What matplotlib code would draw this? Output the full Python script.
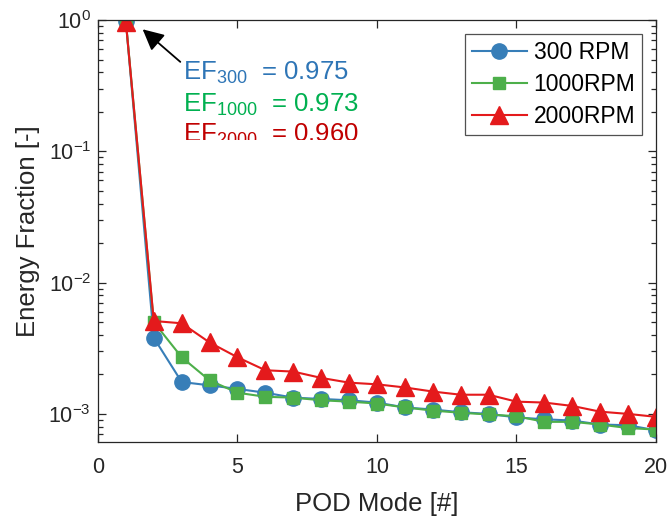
import numpy as np
import matplotlib.pyplot as plt
import matplotlib.patches as mpatches

plt.rcParams['font.family'] = ['Liberation Sans', 'DejaVu Sans']
plt.rcParams['mathtext.default'] = 'regular'

# Dados
modo = np.arange(1, 21)
ef_300 = [0.975, 3.8e-3, 1.75e-3, 1.65e-3, 1.55e-3, 1.45e-3, 1.33e-3, 1.3e-3, 1.27e-3, 1.22e-3,
          1.12e-3, 1.08e-3, 1.03e-3, 1.0e-3, 0.94e-3, 0.91e-3, 0.89e-3, 0.83e-3, 0.82e-3, 0.75e-3]
ef_1000 = [0.973, 5.0e-3, 2.7e-3, 1.8e-3, 1.45e-3, 1.35e-3, 1.33e-3, 1.27e-3, 1.24e-3, 1.2e-3,
           1.12e-3, 1.06e-3, 1.02e-3, 0.99e-3, 0.96e-3, 0.87e-3, 0.87e-3, 0.83e-3, 0.78e-3, 0.76e-3]
ef_2000 = [0.960, 5.1e-3, 4.9e-3, 3.5e-3, 2.7e-3, 2.15e-3, 2.1e-3, 1.88e-3, 1.73e-3, 1.68e-3,
           1.59e-3, 1.48e-3, 1.4e-3, 1.4e-3, 1.24e-3, 1.22e-3, 1.15e-3, 1.04e-3, 1.0e-3, 0.95e-3]
legendas = ['300 RPM', '1000RPM', '2000RPM']
textos_ef = ['EF$_{300}$  = 0.975', 'EF$_{1000}$  = 0.973', 'EF$_{2000}$  = 0.960']

azul, verde, vermelho = '#377EB8', '#4DAF4A', '#E41A1C'
cores_texto = ['#2E75B6', '#00B050', '#C00000']
cinza = '#262626'

fig = plt.figure(figsize=(6.68, 5.16), dpi=100)
ax = fig.add_axes([0.1467, 0.1434, 0.8353, 0.8178])

ax.semilogy(modo, ef_300, '-o', color=azul, lw=1.5, ms=11, label=legendas[0])
ax.semilogy(modo, ef_1000, '-s', color=verde, lw=1.5, ms=8.5, label=legendas[1])
ax.semilogy(modo, ef_2000, '-^', color=vermelho, lw=1.5, ms=13, label=legendas[2])

ax.set_xlim(0, 20)
ax.set_ylim(10 ** -3.214, 1)
ax.set_xticks([0, 5, 10, 15, 20])
ax.tick_params(which='both', direction='in', top=True, right=True,
               labelsize=15.5, colors=cinza, width=0.9)
ax.tick_params(which='major', length=6)
ax.tick_params(which='minor', length=3.5)
ax.tick_params(axis='x', pad=11)
ax.tick_params(axis='y', pad=5)
for s in ax.spines.values():
    s.set_color(cinza)
    s.set_linewidth(0.9)

ax.set_xlabel('POD Mode [#]', fontsize=18.5, color=cinza, labelpad=10)
ax.set_ylabel('Energy Fraction [-]', fontsize=18.5, color=cinza, labelpad=6)

leg = ax.legend(loc='upper right', fontsize=16.5, frameon=True, fancybox=False,
                edgecolor=cinza, borderaxespad=0.6, handlelength=2.4,
                handletextpad=0.3, labelspacing=0.4, borderpad=0.3)
leg.get_frame().set_linewidth(0.9)

ax.annotate('', xy=(1.6, 0.85), xytext=(2.95, 0.48),
            arrowprops=dict(arrowstyle='-|>', color='black', lw=1.3,
                            mutation_scale=32, shrinkA=0, shrinkB=0))

# texto cortado embaixo, como no original
clip = mpatches.Rectangle((0, 0.1215), 20, 1, transform=ax.transData)
for i, (t, c) in enumerate(zip(textos_ef, cores_texto)):
    y = [0.348, 0.199, 0.119][i]
    txt = ax.text(3.05, y, t, color=c, fontsize=18.5, va='baseline', ha='left',
                  clip_on=True)
    txt.set_clip_path(clip)

fig.savefig('out.png', dpi=100)
